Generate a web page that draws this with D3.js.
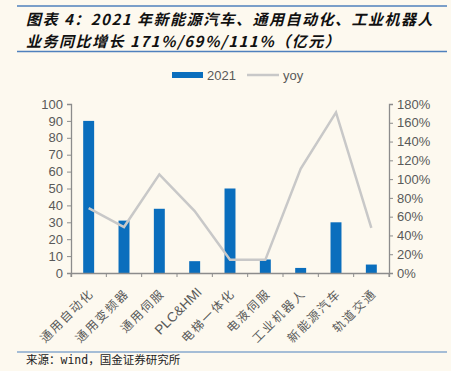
<!DOCTYPE html>
<html>
<head>
<meta charset="utf-8">
<script src="https://cdn.jsdelivr.net/npm/d3@7"></script>
<style>
  body { margin: 0; background: #fdf9ef; }
  svg { display: block; }
</style>
</head>
<body>
<svg id="chart" width="451" height="371"></svg>
<script>
const categories = ["通用自动化", "通用变频器", "通用伺服", "PLC&HMI", "电梯一体化", "电液伺服", "工业机器人", "新能源汽车", "轨道交通"];
const values2021 = [90, 31, 38, 7, 50, 8, 3, 30, 5];
const yoy = [69, 49, 105, 66, 14, 14, 111, 171, 48];
const leftTicks = [0, 10, 20, 30, 40, 50, 60, 70, 80, 90, 100];
const rightTicks = [0, 20, 40, 60, 80, 100, 120, 140, 160, 180];
const titleLines = ["图表 4：2021 年新能源汽车、通用自动化、工业机器人", "业务同比增长 171%/69%/111%（亿元）"];

const svg = d3.select("#chart");
const plotLeft = 71, plotRight = 389, plotTop = 104, plotBottom = 273;
const cjk = "'Noto Sans CJK SC', sans-serif";
const latin = "'Liberation Sans', Arial, sans-serif";

// header rules and title
svg.append("line").attr("x1", 17).attr("x2", 447).attr("y1", 6).attr("y2", 6)
  .attr("stroke", "#4f81bd").attr("stroke-width", 1.5);
svg.append("line").attr("x1", 17).attr("x2", 447).attr("y1", 51.5).attr("y2", 51.5)
  .attr("stroke", "#4f81bd").attr("stroke-width", 1.5);
svg.append("g").selectAll("text").data(titleLines).enter().append("text")
  .attr("x", 26).attr("y", (d, i) => 25 + i * 22)
  .attr("font-family", cjk).attr("font-size", 15)
  .attr("letter-spacing", 1.5)
  .attr("font-style", "italic").attr("font-weight", "bold").attr("fill", "#111")
  .text(d => d);

// scales
const x = d3.scaleBand().domain(categories).range([plotLeft, plotRight]).paddingInner(0.69).paddingOuter(0.345);
const xTick = d3.scaleBand().domain(categories).range([plotLeft, plotRight]);
const y = d3.scaleLinear().domain([0, 100]).range([plotBottom, plotTop]);
const y2 = d3.scaleLinear().domain([0, 180]).range([plotBottom, plotTop]);

// bars
svg.append("g").selectAll("rect").data(values2021).enter().append("rect")
  .attr("x", (d, i) => x(categories[i]))
  .attr("y", d => y(d))
  .attr("width", x.bandwidth())
  .attr("height", d => plotBottom - y(d))
  .attr("fill", "#0a6ebd");

// yoy line
svg.append("path").datum(yoy)
  .attr("fill", "none").attr("stroke", "#c8c8c8").attr("stroke-width", 2.5)
  .attr("d", d3.line().x((d, i) => xTick(categories[i]) + xTick.bandwidth() / 2).y(d => y2(d)));

// axes
const axisColor = "#8c8c8c";
const tickText = "#595959";
const gl = svg.append("g").attr("transform", `translate(${plotLeft},0)`)
  .call(d3.axisLeft(y).tickValues(leftTicks).tickSize(4).tickPadding(4));
const gr = svg.append("g").attr("transform", `translate(${plotRight},0)`)
  .call(d3.axisRight(y2).tickValues(rightTicks).tickSize(4).tickPadding(4).tickFormat(d => d + "%"));
const gb = svg.append("g").attr("transform", `translate(0,${plotBottom})`)
  .call(d3.axisBottom(xTick).tickSize(4).tickSizeOuter(4).tickFormat(""));
[gl, gr, gb].forEach(g => {
  g.select(".domain").attr("stroke", axisColor).attr("stroke-width", 1.3);
  g.selectAll(".tick line").attr("stroke", axisColor);
  g.selectAll(".tick text").attr("fill", tickText).attr("font-family", latin).attr("font-size", 13);
});
gb.selectAll(".tick line").attr("transform", `translate(${-xTick.bandwidth() / 2},0)`);
gb.append("line").attr("x1", plotRight).attr("x2", plotRight).attr("y1", 0).attr("y2", 4).attr("stroke", axisColor);

// category labels
svg.append("g").selectAll("text").data(categories).enter().append("text")
  .attr("transform", d => d === "PLC&HMI"
    ? `translate(${xTick(d) + xTick.bandwidth() / 2 + 8},${plotBottom + 20}) rotate(-45)`
    : `translate(${xTick(d) + xTick.bandwidth() / 2 + 6},${plotBottom + 21}) rotate(-45)`)
  .attr("text-anchor", "end")
  .attr("font-family", d => d === "PLC&HMI" ? latin : cjk)
  .attr("font-size", d => d === "PLC&HMI" ? 13.5 : 12)
  .attr("letter-spacing", d => d === "PLC&HMI" ? 0 : 2)
  .attr("fill", tickText)
  .text(d => d);

// legend
const lg = svg.append("g");
lg.append("rect").attr("x", 172).attr("y", 72).attr("width", 31).attr("height", 6).attr("fill", "#0a6ebd");
lg.append("text").attr("x", 207).attr("y", 80).attr("font-family", latin).attr("font-size", 13)
  .attr("fill", tickText).text("2021");
lg.append("line").attr("x1", 247).attr("x2", 279).attr("y1", 75).attr("y2", 75)
  .attr("stroke", "#c8c8c8").attr("stroke-width", 2.5);
lg.append("text").attr("x", 283).attr("y", 80).attr("font-family", latin).attr("font-size", 13)
  .attr("fill", tickText).text("yoy");

// source
svg.append("line").attr("x1", 17).attr("x2", 447).attr("y1", 352).attr("y2", 352)
  .attr("stroke", "#4f81bd").attr("stroke-width", 1.2);
svg.append("text").attr("x", 26).attr("y", 364).attr("font-family", "'DejaVu Sans Mono', 'Noto Sans CJK SC', monospace")
  .attr("font-size", 11.5).attr("fill", "#222").text("来源：wind，国金证券研究所");
</script>
</body>
</html>
